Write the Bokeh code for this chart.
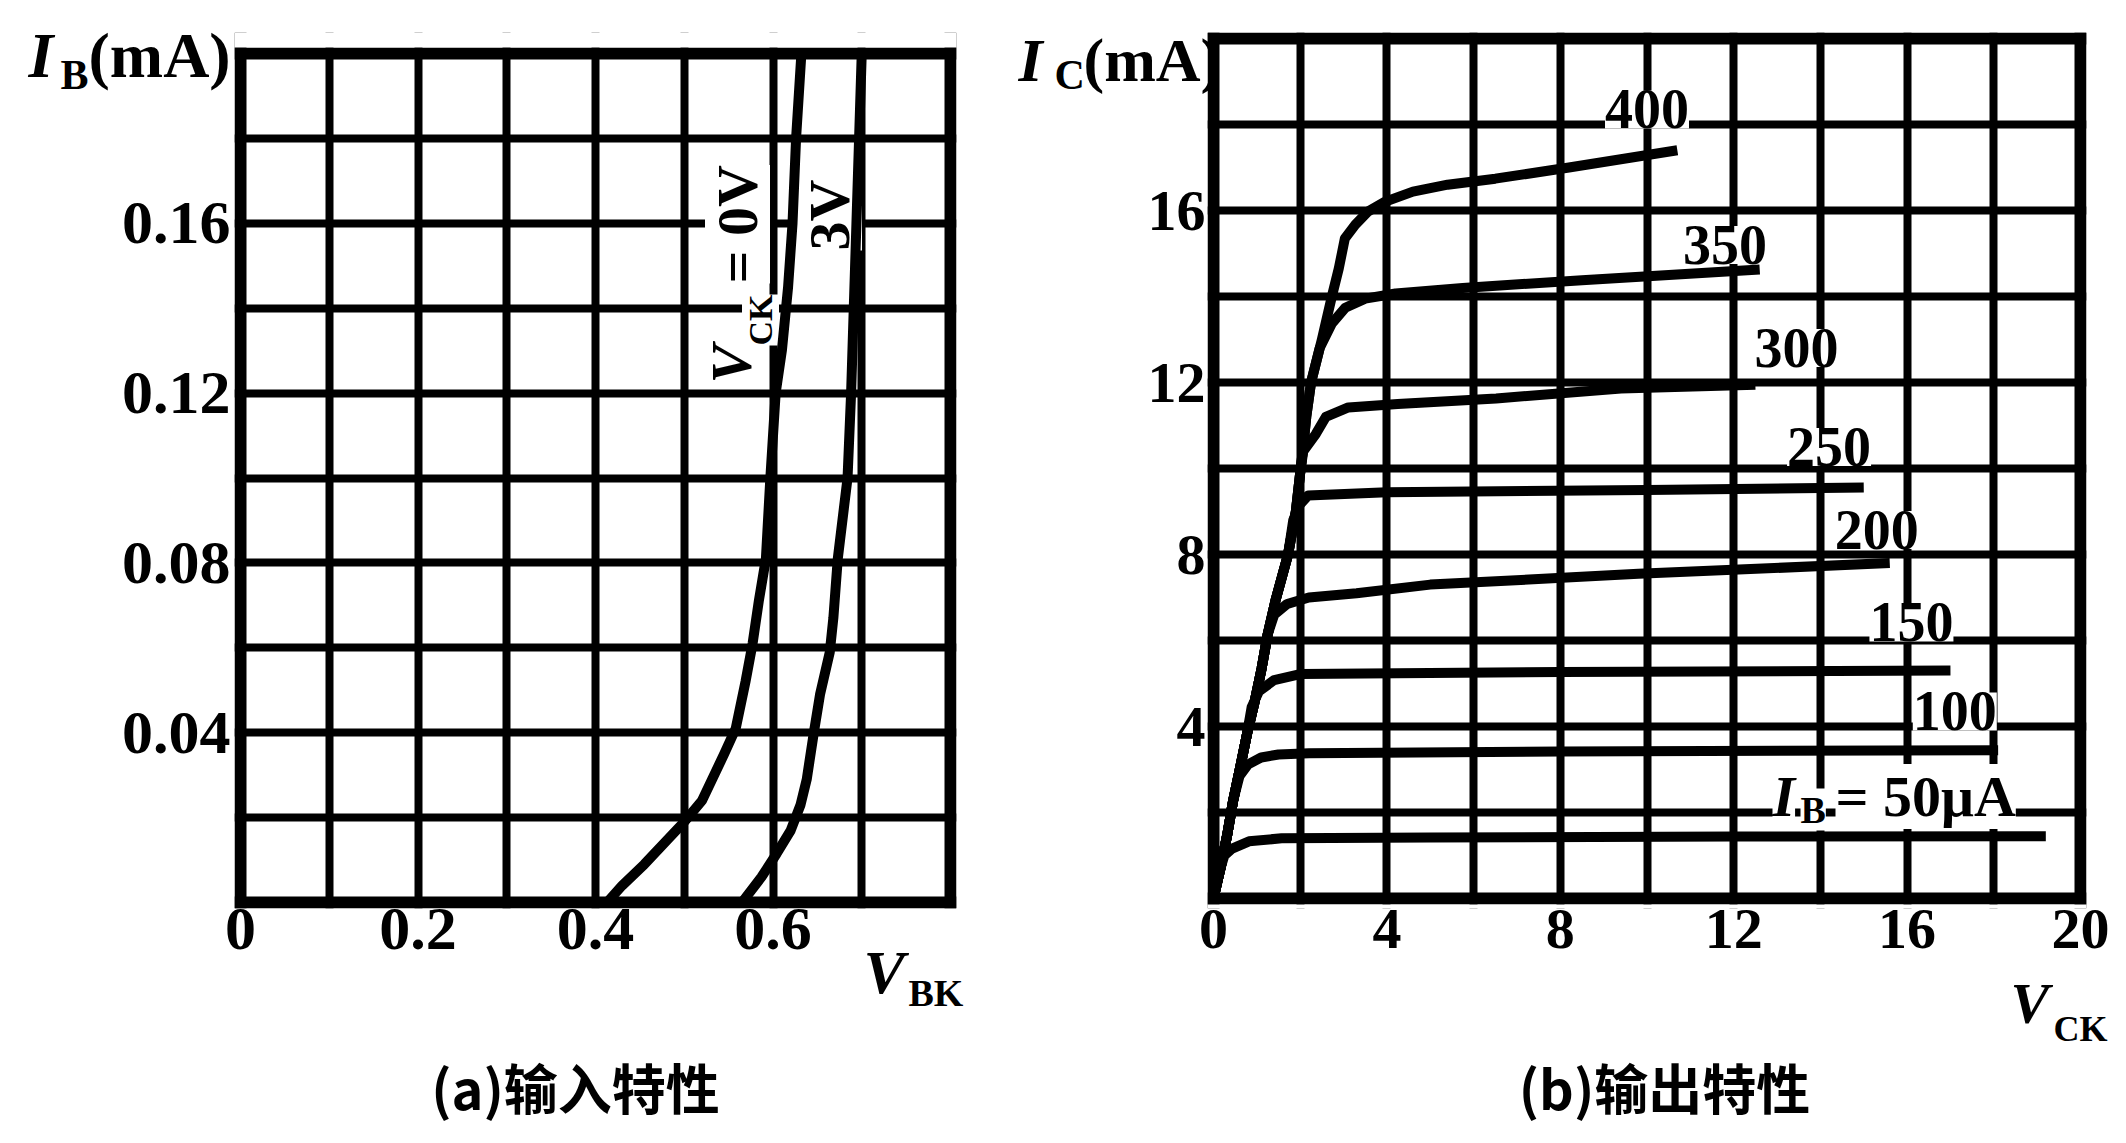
import math
from bokeh.plotting import figure
from bokeh.models import Range1d, FixedTicker, Label, Grid, BoxAnnotation
from bokeh.core.properties import value
from bokeh.layouts import row
from bokeh.embed import file_html
from bokeh.resources import INLINE

# ================= (a) input characteristic =================
vbe_tick_values = [0, 0.2, 0.4, 0.6]
vbe_tick_labels = ["0", "0.2", "0.4", "0.6"]
ib_tick_values = [0.04, 0.08, 0.12, 0.16]
ib_tick_labels = ["0.04", "0.08", "0.12", "0.16"]
vbe_grid = [0.1, 0.2, 0.3, 0.4, 0.5, 0.6, 0.7]
ib_grid = [0.02, 0.04, 0.06, 0.08, 0.10, 0.12, 0.14, 0.16, 0.18]
vbe_limits = [0.0, 0.8]
ib_limits = [0.0, 0.2]

# V_CE = 0 V curve
vbe_vce0 = [0.413, 0.43, 0.455, 0.50, 0.52, 0.545, 0.558, 0.569, 0.577, 0.584,
            0.592, 0.597, 0.603, 0.61, 0.617, 0.622, 0.626, 0.632]
ib_vce0 = [0.0, 0.004, 0.009, 0.019, 0.024, 0.035, 0.041, 0.052, 0.061, 0.071,
           0.081, 0.10, 0.12, 0.13, 0.145, 0.16, 0.18, 0.20]
# V_CE = 3 V curve
vbe_vce3 = [0.565, 0.587, 0.604, 0.62, 0.631, 0.638, 0.646, 0.653, 0.664, 0.668,
            0.673, 0.684, 0.688, 0.691, 0.694, 0.697, 0.70]
ib_vce3 = [0.0, 0.006, 0.0115, 0.017, 0.023, 0.029, 0.04, 0.049, 0.059, 0.067,
           0.081, 0.10, 0.12, 0.14, 0.16, 0.18, 0.20]

# ================= (b) output characteristic =================
vce_tick_values = [0, 4, 8, 12, 16, 20]
vce_tick_labels = ["0", "4", "8", "12", "16", "20"]
ic_tick_values = [4, 8, 12, 16]
ic_tick_labels = ["4", "8", "12", "16"]
vce_grid = [2, 4, 6, 8, 10, 12, 14, 16, 18]
ic_grid = [2, 4, 6, 8, 10, 12, 14, 16, 18]
vce_limits = [0, 20]
ic_limits = [0, 20]

ib_levels = ["50", "100", "150", "200", "250", "300", "350", "400"]

vce_ib50 = [0, 0.1, 0.25, 0.43, 0.82, 1.57, 5, 12, 19.2]
ic_ib50 = [0, 0.5, 1.0, 1.16, 1.33, 1.4, 1.42, 1.44, 1.45]

vce_ib100 = [0, 0.16, 0.32, 0.45, 0.6, 0.8, 1.1, 1.5, 2.2, 8, 18.1]
ic_ib100 = [0, 0.7, 1.5, 2.26, 2.85, 3.12, 3.28, 3.35, 3.38, 3.42, 3.45]

vce_ib150 = [0, 0.16, 0.32, 0.45, 0.61, 0.77, 0.88, 1.05, 1.4, 2.0, 8, 17.0]
ic_ib150 = [0, 0.7, 1.5, 2.26, 3.02, 3.81, 4.45, 4.82, 5.08, 5.22, 5.27, 5.3]

vce_ib200 = [0, 0.16, 0.32, 0.45, 0.61, 0.77, 0.95, 1.11, 1.25, 1.4, 1.7, 2.2, 3.3, 5.0, 9.8, 15.6]
ic_ib200 = [0, 0.7, 1.5, 2.26, 3.02, 3.81, 4.58, 5.35, 6.14, 6.6, 6.85, 7.0, 7.1, 7.3, 7.55, 7.8]

vce_ib250 = [0, 0.16, 0.32, 0.45, 0.61, 0.77, 0.95, 1.11, 1.25, 1.43, 1.72, 1.84, 1.98, 2.18, 4, 10, 15.0]
ic_ib250 = [0, 0.7, 1.5, 2.26, 3.02, 3.81, 4.58, 5.35, 6.14, 6.93, 8.0, 8.8, 9.15, 9.37, 9.45, 9.5, 9.56]

vce_ib300 = [0, 0.16, 0.32, 0.45, 0.61, 0.77, 0.95, 1.11, 1.25, 1.43, 1.72, 1.9, 2.0, 2.07,
             2.36, 2.59, 3.11, 4.25, 6.52, 9.4, 12.5]
ic_ib300 = [0, 0.7, 1.5, 2.26, 3.02, 3.81, 4.58, 5.35, 6.14, 6.93, 8.0, 9.0, 9.9, 10.4,
            10.8, 11.2, 11.42, 11.5, 11.63, 11.86, 11.95]

vce_ib350 = [0, 0.16, 0.32, 0.45, 0.61, 0.77, 0.95, 1.11, 1.25, 1.43, 1.72, 1.9, 2.0, 2.07,
             2.14, 2.25, 2.45, 2.73, 3.04, 3.5, 4.2, 5.75, 8.5, 12.6]
ic_ib350 = [0, 0.7, 1.5, 2.26, 3.02, 3.81, 4.58, 5.35, 6.14, 6.93, 8.0, 9.0, 9.9, 10.5,
            11.2, 12.0, 12.8, 13.37, 13.74, 13.95, 14.07, 14.2, 14.38, 14.63]

vce_ib400 = [0, 0.16, 0.32, 0.45, 0.61, 0.77, 0.95, 1.11, 1.25, 1.43, 1.72, 1.9, 2.0, 2.07,
             2.14, 2.25, 2.5, 2.73, 2.89, 3.03, 3.27, 3.57, 3.95, 4.6, 5.4, 6.5, 8.2, 10.7]
ic_ib400 = [0, 0.7, 1.5, 2.26, 3.02, 3.81, 4.58, 5.35, 6.14, 6.93, 8.0, 9.0, 9.9, 10.5,
            11.2, 12.0, 13.0, 14.0, 14.65, 15.35, 15.67, 15.98, 16.2, 16.44, 16.6, 16.74, 17.0, 17.4]

# where each I_B label sits (data units, centre of the digits)
ib_label_x = [None, 17.1, 16.1, 15.3, 14.2, 13.45, 11.8, 10.0]
ib_label_y = [None, 4.35, 6.42, 8.57, 10.5, 12.8, 15.2, 18.35]

SERIF = "Liberation Serif"
CJK = "Noto Sans CJK SC"

# ---------------- layout geometry (pixels in the picture) ----------------
A_W, B_W, H = 1000, 1110, 1127
A_L, A_R, A_T, A_B = 240, 950, 53, 902          # drawn border of panel (a)
B_L, B_R, B_T, B_B = 1213, 2080, 38, 898        # drawn border of panel (b)
PAD = 6                                         # half of the border width
F_T = min(A_T, B_T) - PAD                       # common frame top
F_B = max(A_B, B_B) + PAD                       # common frame bottom
A_SX = (A_R - A_L) / 0.8
A_SY = (A_B - A_T) / 0.2
B_SX = (B_R - B_L) / 20.0
B_SY = (B_B - B_T) / 20.0


def a_x(px):
    return (px - A_L) / A_SX


def a_y(py):
    return (A_B - py) / A_SY


def b_x(px):
    return (px - B_L) / B_SX


def b_y(py):
    return (B_B - py) / B_SY


def add_label(p, x, y, text, size, style="bold", font=SERIF, align="left",
              angle=0.0, bg=False):
    lab = Label(x=x, y=y, text=text, text_font=font, text_font_size=size,
                text_font_style=style, text_color="black", text_align=align,
                text_baseline="middle", angle=angle)
    if bg:
        lab.background_fill_color = "white"
        lab.level = "underlay"
    p.add_layout(lab)


def add_outer_text(p, x, y, text, size, style="bold", font=SERIF, align="left"):
    p.text(x=[x], y=[y], text=[text], text_font=value(font), text_font_size=value(size),
           text_font_style=value(style), text_color="black", text_align=value(align),
           text_baseline=value("middle"), level="overlay")


def style_fig(p, xgrid, ygrid, xlim, ylim, xticks, xlabels, yticks, ylabels,
              fsize, xstand, ystand, xpad, ypad):
    p.background_fill_color = "white"
    p.border_fill_color = "white"
    p.outline_line_color = None
    p.xgrid.ticker = FixedTicker(ticks=xgrid)
    p.ygrid.ticker = FixedTicker(ticks=ygrid)
    for g in (p.xgrid, p.ygrid):
        g.grid_line_color = "black"
        g.grid_line_width = 8
        g.grid_line_alpha = 1.0
    # the thick border of each panel
    p.add_layout(Grid(dimension=0, ticker=FixedTicker(ticks=xlim),
                      grid_line_color="black", grid_line_width=12))
    p.add_layout(Grid(dimension=1, ticker=FixedTicker(ticks=ylim),
                      grid_line_color="black", grid_line_width=12))
    # white masks so that grid lines stop at the border
    p.add_layout(BoxAnnotation(bottom=ylim[1] + ypad, fill_color="white", fill_alpha=1.0,
                               line_color=None, level="underlay"))
    p.add_layout(BoxAnnotation(top=ylim[0] - ypad, fill_color="white", fill_alpha=1.0,
                               line_color=None, level="underlay"))
    p.add_layout(BoxAnnotation(right=xlim[0] - xpad, fill_color="white", fill_alpha=1.0,
                               line_color=None, level="underlay"))
    p.add_layout(BoxAnnotation(left=xlim[1] + xpad, fill_color="white", fill_alpha=1.0,
                               line_color=None, level="underlay"))
    p.xaxis.ticker = FixedTicker(ticks=xticks)
    p.yaxis.ticker = FixedTicker(ticks=yticks)
    p.xaxis.major_label_overrides = {v: t for v, t in zip(xticks, xlabels)}
    p.yaxis.major_label_overrides = {v: t for v, t in zip(yticks, ylabels)}
    for ax in (p.xaxis, p.yaxis):
        ax.axis_line_color = None
        ax.major_tick_line_color = None
        ax.minor_tick_line_color = None
        ax.major_tick_in = 0
        ax.major_tick_out = 0
        ax.minor_tick_in = 0
        ax.minor_tick_out = 0
        ax.major_label_text_font = SERIF
        ax.major_label_text_font_style = "bold"
        ax.major_label_text_font_size = fsize
        ax.major_label_text_color = "black"
    p.xaxis.major_label_standoff = xstand
    p.yaxis.major_label_standoff = ystand


# ---------------- figure (a) ----------------
pa = figure(width=A_W, height=H,
            x_range=Range1d(a_x(A_L - PAD), a_x(A_R + PAD)),
            y_range=Range1d(a_y(F_B), a_y(F_T)),
            output_backend="svg", toolbar_location=None,
            min_border_left=A_L - PAD, min_border_right=A_W - A_R - PAD,
            min_border_top=F_T, min_border_bottom=H - F_B)
style_fig(pa, vbe_grid, ib_grid, vbe_limits, ib_limits, vbe_tick_values, vbe_tick_labels,
          ib_tick_values, ib_tick_labels, "62px", 0, 4, PAD / A_SX, PAD / A_SY)

pa.line(vbe_vce0, ib_vce0, line_width=10, line_color="black", line_join="round")
pa.line(vbe_vce3, ib_vce3, line_width=10, line_color="black", line_join="round")

rot = math.pi / 2
add_label(pa, a_x(731), a_y(383), "V", "58px", style="bold italic", angle=rot, bg=True)
add_label(pa, a_x(760), a_y(345), "CK", "34px", angle=rot, bg=True)
add_label(pa, a_x(737), a_y(283), "= 0V", "58px", angle=rot, bg=True)
add_label(pa, a_x(829), a_y(250), "3V", "58px", angle=rot, bg=True)

# axis titles (y given as the middle of the capitals)
add_outer_text(pa, a_x(28), a_y(55), "I", "64px", style="bold italic")
add_outer_text(pa, a_x(60), a_y(74), "B", "42px")
add_outer_text(pa, a_x(88), a_y(55), "(mA)", "64px")
add_outer_text(pa, a_x(863), a_y(971), "V", "62px", style="bold italic")
add_outer_text(pa, a_x(908), a_y(992), "BK", "38px")
# caption
add_outer_text(pa, a_x(575), a_y(1086), "(a)输入特性", "54px", font=CJK, align="center")

# ---------------- figure (b) ----------------
pb = figure(width=B_W, height=H,
            x_range=Range1d(b_x(B_L - PAD), b_x(B_R + PAD)),
            y_range=Range1d(b_y(F_B), b_y(F_T)),
            output_backend="svg", toolbar_location=None,
            min_border_left=B_L - PAD - A_W, min_border_right=A_W + B_W - B_R - PAD,
            min_border_top=F_T, min_border_bottom=H - F_B)
style_fig(pb, vce_grid, ic_grid, vce_limits, ic_limits, vce_tick_values, vce_tick_labels,
          ic_tick_values, ic_tick_labels, "58px", 1, 2, PAD / B_SX, PAD / B_SY)

curves_x = [vce_ib50, vce_ib100, vce_ib150, vce_ib200, vce_ib250, vce_ib300, vce_ib350, vce_ib400]
curves_y = [ic_ib50, ic_ib100, ic_ib150, ic_ib200, ic_ib250, ic_ib300, ic_ib350, ic_ib400]
for xs, ys in zip(curves_x, curves_y):
    pb.line(xs, ys, line_width=10, line_color="black", line_join="round")

for lvl, lx, ly in zip(ib_levels, ib_label_x, ib_label_y):
    if lx is None:
        continue
    add_label(pb, lx, ly, lvl, "56px", align="center", bg=True)

# I_B = 50 uA label
add_label(pb, b_x(1772), b_y(796), "I", "58px", style="bold italic", bg=True)
add_label(pb, b_x(1800), b_y(809), "B", "38px", bg=True)
add_label(pb, b_x(1835), b_y(796), "= 50μA", "58px", bg=True)

# axis titles
add_outer_text(pb, b_x(1018), b_y(59), "I", "62px", style="bold italic")
add_outer_text(pb, b_x(1054), b_y(74), "C", "42px")
add_outer_text(pb, b_x(1083), b_y(59), "(mA)", "62px")
add_outer_text(pb, b_x(2010), b_y(1003), "V", "58px", style="bold italic")
add_outer_text(pb, b_x(2053), b_y(1028), "CK", "36px")
# caption
add_outer_text(pb, b_x(1664), b_y(1086), "(b)输出特性", "54px", font=CJK, align="center")

layout = row(pa, pb)
open("out.html", "w").write(file_html(layout, INLINE))
